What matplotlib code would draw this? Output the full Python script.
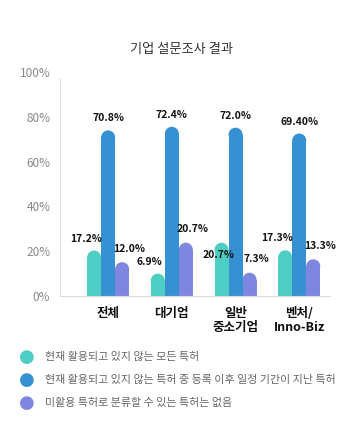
import numpy as np
import matplotlib.pyplot as plt
from matplotlib.patches import Ellipse

plt.rcParams['font.family'] = ['Noto Sans CJK KR', 'DejaVu Sans']

# data
categories = ['전체', '대기업', '일반\n중소기업', '벤처/\nInno-Biz']
series_names = ['현재 활용되고 있지 않는 모든 특허',
                '현재 활용되고 있지 않는 특허 중 등록 이후 일정 기간이 지난 특허',
                '미활용 특허로 분류할 수 있는 특허는 없음']
all_unused = [17.2, 6.9, 20.7, 17.3]
unused_after_period = [70.8, 72.4, 72.0, 69.4]
none_unused = [12.0, 20.7, 7.3, 13.3]
value_labels = [['17.2%', '6.9%', '20.7%', '17.3%'],
                ['70.8%', '72.4%', '72.0%', '69.40%'],
                ['12.0%', '20.7%', '7.3%', '13.3%']]
yticks = [0, 20, 40, 60, 80, 100]

colors = ['#4ECDC4', '#3591D1', '#7F86E0']
# label offsets in points (dx, dy) above the bar top, per series
label_offsets = [(-6, 10), (0, 10), (5, 11)]

fig = plt.figure(figsize=(3.62, 4.23), dpi=100)
ax = fig.add_axes([0.166, 0.300, 0.746, 0.530])

x = np.arange(len(categories))
w = 0.22
data = [all_unused, unused_after_period, none_unused]
ax.set_xlim(-0.754, 3.485)
ax.set_ylim(0, 100)

# size of the round cap in data units (bar width ~14 px)
px_per_y = 0.530 * 423 / 100.0
cap_h = 14 / px_per_y

for i, vals in enumerate(data):
    xs = x + (i - 1) * w
    ax.bar(xs, vals, width=w, color=colors[i], zorder=2)
    for j, (xx, v) in enumerate(zip(xs, vals)):
        ax.add_patch(Ellipse((xx, v), w, cap_h, color=colors[i], zorder=2, lw=0))
        dx, dy = label_offsets[i]
        va = 'bottom'
        if i == 0 and j == 2:
            dx, dy, va = -2, -4, 'center'
        ax.annotate(value_labels[i][j], (xx, v), xytext=(dx, dy),
                    textcoords='offset points', ha='center', va=va,
                    fontsize=7.5, fontweight='bold', color='#111111', zorder=3)

ax.set_yticks(yticks)
ax.set_yticklabels([f'{t}%' for t in yticks], color='#888888', fontsize=8.5)
ax.set_xticks(x)
ax.set_xticklabels(categories, fontsize=9, fontweight='bold', color='#111111',
                   linespacing=1.1)
ax.tick_params(length=0)
ax.tick_params(axis='x', pad=8)
ax.tick_params(axis='y', pad=7)
for s in ['top', 'right']:
    ax.spines[s].set_visible(False)
ax.spines['left'].set_color('#dddddd')
ax.spines['bottom'].set_color('#dddddd')
ax.spines['left'].set_bounds(0, 97)

fig.text(0.5, 0.884, '기업 설문조사 결과', ha='center', va='center',
         fontsize=9.5, color='#333333')

# legend
for k, name in enumerate(series_names):
    yy = 1 - (357 + k * 23) / 423
    fig.text(27 / 362, yy, '●', ha='center', va='center', fontsize=13,
             color=colors[k], family=['DejaVu Sans'])
    fig.text(45 / 362, yy, name, ha='left', va='center', fontsize=7.9,
             color='#666666')

fig.savefig('out.png', dpi=100)
